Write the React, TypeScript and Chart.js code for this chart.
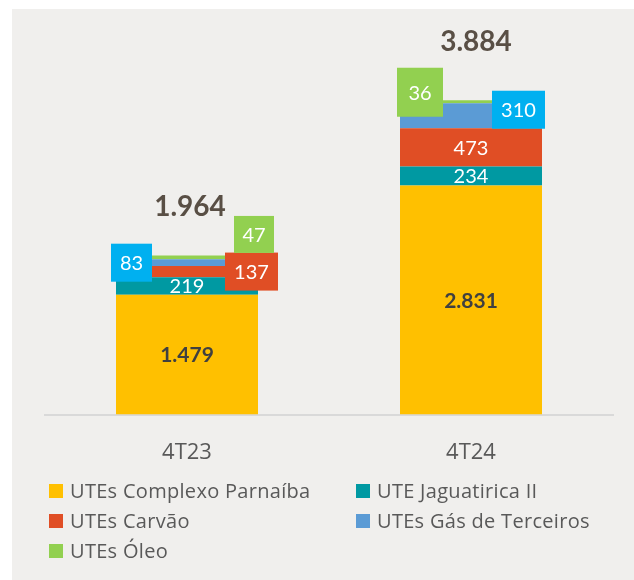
import React, { useEffect, useRef } from 'react';
import { Chart, registerables } from 'chart.js';

Chart.register(...registerables);

const categories = ['4T23', '4T24'];
const seriesNames = [
  'UTEs Complexo Parnaíba',
  'UTE Jaguatirica II',
  'UTEs Carvão',
  'UTEs Gás de Terceiros',
  'UTEs Óleo',
];
const parnaiba = [1479, 2831];
const jaguatirica = [219, 234];
const carvao = [137, 473];
const gasTerceiros = [83, 310];
const oleo = [47, 36];
const totals = [1964, 3884];

const seriesColors = ['#FFC000', '#0099A2', '#E04E25', '#5B9BD5', '#92D050'];

// callout boxes (style / placement only), keyed "dataset-category"
const callouts: Record<string, { dx: number; dy: number; w: number; h: number; bg: string }> = {
  '3-0': { dx: -55.5, dy: 0, w: 41, h: 38, bg: '#00B0F0' },
  '2-0': { dx: 64.5, dy: 0, w: 53, h: 38, bg: '#E04E25' },
  '4-0': { dx: 67, dy: -23, w: 40, h: 37, bg: '#92D050' },
  '3-1': { dx: 47.5, dy: -6, w: 53, h: 38, bg: '#00B0F0' },
  '4-1': { dx: -51, dy: -9.5, w: 46, h: 49, bg: '#92D050' },
};
const totalOffsets = [
  { dx: 3, dy: -49 },
  { dx: 5, dy: -58 },
];

const FONT = 'Lato';
const TEXT_FONT = '"Open Sans"';

function fmt(n: number): string {
  return String(n).replace(/\B(?=(\d{3})+(?!\d))/g, '.');
}

const bgPlugin = {
  id: 'bgPanel',
  beforeDraw(chart: any) {
    const { ctx, width, height } = chart;
    ctx.save();
    ctx.fillStyle = '#FFFFFF';
    ctx.fillRect(0, 0, width, height);
    ctx.fillStyle = '#F0EFED';
    ctx.fillRect(12, 9, width - 12, height - 9);
    ctx.restore();
  },
};

const labelPlugin = {
  id: 'segLabels',
  afterDatasetsDraw(chart: any) {
    const ctx = chart.ctx;
    ctx.save();
    ctx.textAlign = 'center';
    ctx.textBaseline = 'middle';
    chart.data.datasets.forEach((ds: any, di: number) => {
      const meta = chart.getDatasetMeta(di);
      meta.data.forEach((bar: any, ci: number) => {
        const { x, y, base } = bar.getProps(['x', 'y', 'base'], true);
        const cy = (y + base) / 2;
        const val = ds.data[ci];
        const c = callouts[`${di}-${ci}`];
        if (c) {
          const bx = x + c.dx;
          const by = cy + c.dy;
          ctx.fillStyle = c.bg;
          ctx.fillRect(bx - c.w / 2, by - c.h / 2, c.w, c.h);
          ctx.fillStyle = '#FFFFFF';
          ctx.font = `20px ${FONT}`;
          ctx.fillText(fmt(val), bx, by + 1);
        } else if (di === 0) {
          ctx.fillStyle = '#404040';
          ctx.font = `bold 21px ${FONT}`;
          ctx.fillText(fmt(val), x, cy + 1);
        } else {
          ctx.fillStyle = '#FFFFFF';
          ctx.font = `20px ${FONT}`;
          ctx.fillText(fmt(val), x, cy + 1);
        }
      });
    });
    const last = chart.getDatasetMeta(chart.data.datasets.length - 1);
    last.data.forEach((bar: any, ci: number) => {
      const { x, y } = bar.getProps(['x', 'y'], true);
      const o = totalOffsets[ci];
      ctx.fillStyle = '#594F45';
      ctx.font = `bold 28px ${FONT}`;
      ctx.fillText(fmt(totals[ci]), x + o.dx, y + o.dy);
    });
    ctx.restore();
  },
};

const legendPlugin = {
  id: 'gridLegend',
  afterDraw(chart: any) {
    const ctx = chart.ctx;
    const cols = [49, 356];
    const rows = [491, 521, 551];
    ctx.save();
    ctx.textAlign = 'left';
    ctx.textBaseline = 'middle';
    ctx.font = `20px ${TEXT_FONT}`;
    try {
      (ctx as any).letterSpacing = '0.3px';
    } catch (e) {
      /* ignore */
    }
    chart.data.datasets.forEach((ds: any, i: number) => {
      const x = cols[i % 2];
      const y = rows[Math.floor(i / 2)];
      ctx.fillStyle = ds.backgroundColor;
      ctx.fillRect(x, y - 7, 14, 14);
      ctx.fillStyle = '#595959';
      ctx.fillText(ds.label, x + 21, y + 1);
    });
    ctx.restore();
  },
};

export default function App() {
  const ref = useRef<HTMLCanvasElement | null>(null);
  useEffect(() => {
    document.body.style.margin = '0';
    if (!ref.current) return;
    const seriesData = [parnaiba, jaguatirica, carvao, gasTerceiros, oleo];
    const chart = new Chart(ref.current, {
      type: 'bar',
      data: {
        labels: categories,
        datasets: seriesData.map((d, i) => ({
          label: seriesNames[i],
          data: d,
          backgroundColor: seriesColors[i],
          borderWidth: 0,
          categoryPercentage: 1,
          barPercentage: 0.5,
        })),
      },
      options: {
        responsive: false,
        animation: false,
        devicePixelRatio: 1,
        layout: { padding: { left: 45, right: 21, top: 10, bottom: 0 } },
        plugins: {
          legend: { display: false },
          tooltip: { enabled: false },
        },
        scales: {
          x: {
            stacked: true,
            grid: { display: false, drawTicks: false },
            border: { display: true, color: '#D9D9D9', width: 2 },
            ticks: {
              color: '#595959',
              font: { family: 'Open Sans', size: 22 },
              padding: 25,
            },
            afterFit: (scale: any) => {
              scale.height = 165.5;
            },
          },
          y: {
            stacked: true,
            display: false,
            min: 0,
            max: 5000,
          },
        },
      },
      plugins: [bgPlugin, labelPlugin, legendPlugin],
    });
    return () => chart.destroy();
  }, []);
  return (
    <div style={{ position: 'absolute', left: 0, top: 0, width: 634, height: 580 }}>
      <canvas ref={ref} width={634} height={580} style={{ display: 'block' }} />
    </div>
  );
}
